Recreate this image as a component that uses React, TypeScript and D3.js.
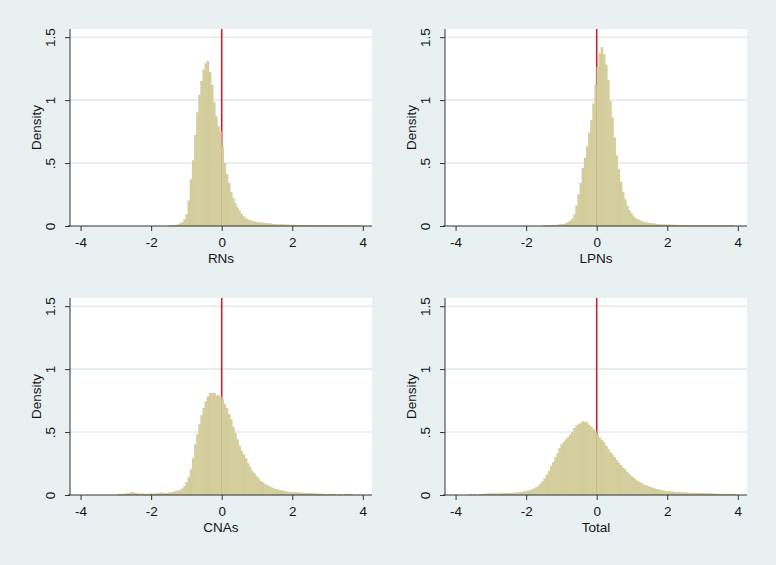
import React, { useEffect, useRef } from "react";
import { select, scaleLinear, axisLeft, axisBottom } from "d3";

// histogram densities, bin width 0.06, first bin starts at *Start
const binWidth = 0.06;

const rnStart = -1.5;
const rnValues = [
  0.004, 0.004, 0.006, 0.008, 0.012, 0.02, 0.03, 0.05, 0.09, 0.2,
  0.37, 0.52, 0.72, 0.9, 1.04, 1.15, 1.24, 1.29, 1.31, 1.22,
  1.12, 0.98, 0.87, 0.79, 0.75, 0.63, 0.5, 0.41, 0.34, 0.27,
  0.22, 0.18, 0.145, 0.12, 0.095, 0.075, 0.06, 0.05, 0.043, 0.037,
  0.033, 0.03, 0.028, 0.026, 0.024, 0.022, 0.02, 0.019, 0.017, 0.015,
  0.013, 0.012, 0.011,
  0.01, 0.01, 0.009, 0.009, 0.008, 0.008, 0.008, 0.007, 0.007, 0.007,
  0.006, 0.006, 0.006, 0.006, 0.005, 0.005, 0.005, 0.005, 0.005, 0.005,
  0.004, 0.004, 0.004, 0.004, 0.004, 0.004, 0.004, 0.004, 0.004, 0.003,
  0.003, 0.003, 0.003, 0.003, 0.003, 0.003, 0.003,
];

const lpnStart = -1.5;
const lpnValues = [
  0.004, 0.004, 0.004, 0.005, 0.005, 0.006, 0.008, 0.01, 0.012, 0.015,
  0.02, 0.03, 0.04, 0.055, 0.09, 0.16, 0.25, 0.34, 0.46, 0.54,
  0.63, 0.74, 0.84, 0.97, 1.12, 1.26, 1.37, 1.42, 1.36, 1.28,
  1.16, 0.99, 0.86, 0.7, 0.56, 0.45, 0.35, 0.27, 0.21, 0.16,
  0.125, 0.1, 0.075, 0.06, 0.05, 0.042, 0.036, 0.03, 0.027, 0.024,
  0.021, 0.019, 0.017,
  0.014, 0.013, 0.012, 0.011, 0.01, 0.01, 0.009, 0.009, 0.008, 0.008,
  0.008, 0.007, 0.007, 0.007, 0.006, 0.006, 0.006, 0.006, 0.005, 0.005,
  0.005, 0.005, 0.005, 0.005, 0.005, 0.004, 0.004, 0.004, 0.004, 0.004,
  0.004, 0.004, 0.004, 0.004, 0.004, 0.004, 0.004,
];

const cnaStart = -3.0;
const cnaValues = [
  0, 0.006, 0.006, 0.008, 0.01, 0.012, 0.015, 0.02, 0.02, 0.015,
  0.01, 0.008, 0.01, 0.008, 0.006, 0.008, 0.01, 0.008, 0.01, 0.012,
  0.015, 0.018, 0.014, 0.012, 0.015, 0.018, 0.02, 0.025, 0.03, 0.035,
  0.04, 0.05, 0.07, 0.1, 0.14, 0.2, 0.29, 0.4, 0.48, 0.56,
  0.63, 0.69, 0.74, 0.78, 0.81, 0.81, 0.81, 0.79, 0.79, 0.78,
  0.76, 0.72, 0.69, 0.64, 0.6, 0.54, 0.49, 0.44, 0.39, 0.35,
  0.32, 0.29, 0.25, 0.22, 0.19, 0.17, 0.15, 0.13, 0.11, 0.1,
  0.085, 0.075, 0.066, 0.058, 0.052, 0.047, 0.042, 0.037,
  0.033, 0.03, 0.027, 0.025, 0.023, 0.021, 0.02, 0.019, 0.018, 0.017,
  0.016, 0.015, 0.014, 0.013, 0.012, 0.011, 0.01, 0.009, 0.008, 0.008,
  0.007, 0.007, 0.006, 0.006, 0.005, 0.004, 0, 0.004, 0.003, 0,
  0.005, 0.006, 0.005, 0.004,
];

const totalStart = -3.6;
const totalValues = [
  0.004, 0, 0.004, 0, 0.004, 0.006, 0.008, 0.008, 0.01, 0.01,
  0.01, 0.01, 0.009, 0.01, 0.011, 0.012, 0.012, 0.013, 0.014, 0.015,
  0.016, 0.017, 0.018,
  0.02, 0.022, 0.025, 0.028, 0.032, 0.036, 0.042, 0.05, 0.06, 0.072,
  0.088, 0.106, 0.13, 0.16, 0.19, 0.23, 0.26, 0.3, 0.33, 0.37,
  0.4, 0.42, 0.44, 0.46, 0.48, 0.5, 0.53, 0.55, 0.56, 0.57,
  0.585, 0.58, 0.575, 0.555, 0.54, 0.52, 0.505, 0.48, 0.455, 0.435,
  0.415, 0.39, 0.365, 0.34, 0.32, 0.3, 0.275, 0.255, 0.235, 0.215,
  0.2, 0.18, 0.165, 0.15, 0.135, 0.122, 0.11, 0.1, 0.09, 0.08,
  0.074, 0.068, 0.062, 0.056, 0.05, 0.045, 0.041, 0.037, 0.034, 0.031, 0.029,
  0.027, 0.025, 0.024, 0.022, 0.021, 0.02, 0.019, 0.018, 0.017, 0.016,
  0.016, 0.015, 0.015, 0.014, 0.014, 0.016, 0.015, 0.013, 0.012, 0.011,
  0.01, 0.009, 0.009, 0.008, 0.008, 0.007, 0.007, 0.006, 0.006, 0.005,
  0.005, 0.005,
];

const xTicks = [-4, -2, 0, 2, 4];
const yTicks = [0, 0.5, 1, 1.5];
const yTickLabels = ["0", ".5", "1", "1.5"];
const xDomain = [-4.3, 4.26];
const yDomain = [0, 1.565];

const panels = [
  { title: "RNs", start: rnStart, values: rnValues, left: 70, right: 372, top: 29, bottom: 226 },
  { title: "LPNs", start: lpnStart, values: lpnValues, left: 445, right: 747, top: 29, bottom: 226 },
  { title: "CNAs", start: cnaStart, values: cnaValues, left: 70, right: 372, top: 298, bottom: 495 },
  { title: "Total", start: totalStart, values: totalValues, left: 445, right: 747, top: 298, bottom: 495 },
];

const font = "Arimo, 'Liberation Sans', Arial, Helvetica, sans-serif";
const ink = "#141414";
const fontSize = 13.5;

export default function App() {
  const ref = useRef<SVGSVGElement>(null);

  useEffect(() => {
    const svg = select(ref.current);
    svg.selectAll("*").remove();

    svg.append("rect").attr("width", 776).attr("height", 565).attr("fill", "#e9f0f2");

    panels.forEach((p) => {
      const x = scaleLinear().domain(xDomain).range([p.left, p.right]);
      const y = scaleLinear().domain(yDomain).range([p.bottom, p.top]);
      const g = svg.append("g");

      g.append("rect")
        .attr("x", p.left)
        .attr("y", p.top)
        .attr("width", p.right - p.left)
        .attr("height", p.bottom - p.top)
        .attr("fill", "#ffffff");

      g.selectAll(".grid")
        .data(yTicks.filter((t) => t > 0))
        .enter()
        .append("line")
        .attr("x1", p.left)
        .attr("x2", p.right)
        .attr("y1", (d) => y(d))
        .attr("y2", (d) => y(d))
        .attr("stroke", "#e2ebee")
        .attr("stroke-width", 1.6);

      // reference line at zero, drawn under the bars
      g.append("line")
        .attr("x1", x(0))
        .attr("x2", x(0))
        .attr("y1", y(0))
        .attr("y2", p.top)
        .attr("stroke", "#c9222a")
        .attr("stroke-width", 1.6);

      const bins = p.values.map((v, i) => ({
        x0: p.start + i * binWidth,
        x1: p.start + (i + 1) * binWidth,
        v,
      }));
      g.selectAll(".bar")
        .data(bins.filter((b) => b.v > 0))
        .enter()
        .append("rect")
        .attr("x", (d) => x(d.x0))
        .attr("width", (d) => x(d.x1) - x(d.x0))
        .attr("y", (d) => y(d.v))
        .attr("height", (d) => y(0) - y(d.v))
        .attr("fill", "#d5cf9e")
        .attr("stroke", "#c9c18e")
        .attr("stroke-width", 0.3);

      const xAxisG = g
        .append("g")
        .attr("transform", `translate(0,${p.bottom})`)
        .call(
          axisBottom(x)
            .tickValues(xTicks)
            .tickSize(5)
            .tickSizeOuter(0)
            .tickPadding(6)
            .tickFormat((d) => String(d))
        );
      xAxisG.select(".domain").attr("stroke", "#333").attr("d", `M${p.left - 2},0H${p.right}`);
      xAxisG.selectAll(".tick line").attr("stroke", "#333");
      xAxisG.selectAll("text").attr("font-family", font).attr("font-size", fontSize).attr("fill", ink);

      const yAxisG = g
        .append("g")
        .attr("transform", `translate(${p.left},0)`)
        .call(
          axisLeft(y)
            .tickValues(yTicks)
            .tickSize(5)
            .tickSizeOuter(0)
            .tickFormat((d, i) => yTickLabels[i])
        );
      yAxisG.select(".domain").attr("stroke", "#333").attr("d", `M0,${p.bottom}V${p.top}`);
      yAxisG.selectAll(".tick line").attr("stroke", "#333");
      yAxisG
        .selectAll("text")
        .attr("font-family", font)
        .attr("font-size", fontSize)
        .attr("fill", ink)
        .attr("transform", "rotate(-90)")
        .attr("x", 0)
        .attr("y", -20)
        .attr("dy", "0.35em")
        .attr("text-anchor", "middle");

      g.append("text")
        .text(p.title)
        .attr("x", (p.left + p.right) / 2)
        .attr("y", p.bottom + 37)
        .attr("text-anchor", "middle")
        .attr("font-family", font)
        .attr("font-size", fontSize)
        .attr("fill", ink);

      g.append("text")
        .text("Density")
        .attr("transform", `translate(${p.left - 34},${(p.top + p.bottom) / 2}) rotate(-90)`)
        .attr("dy", "0.35em")
        .attr("text-anchor", "middle")
        .attr("font-family", font)
        .attr("font-size", fontSize)
        .attr("fill", ink);
    });
  }, []);

  return (
    <svg
      ref={ref}
      width={776}
      height={565}
      style={{ position: "absolute", left: 0, top: 0, display: "block" }}
    />
  );
}
